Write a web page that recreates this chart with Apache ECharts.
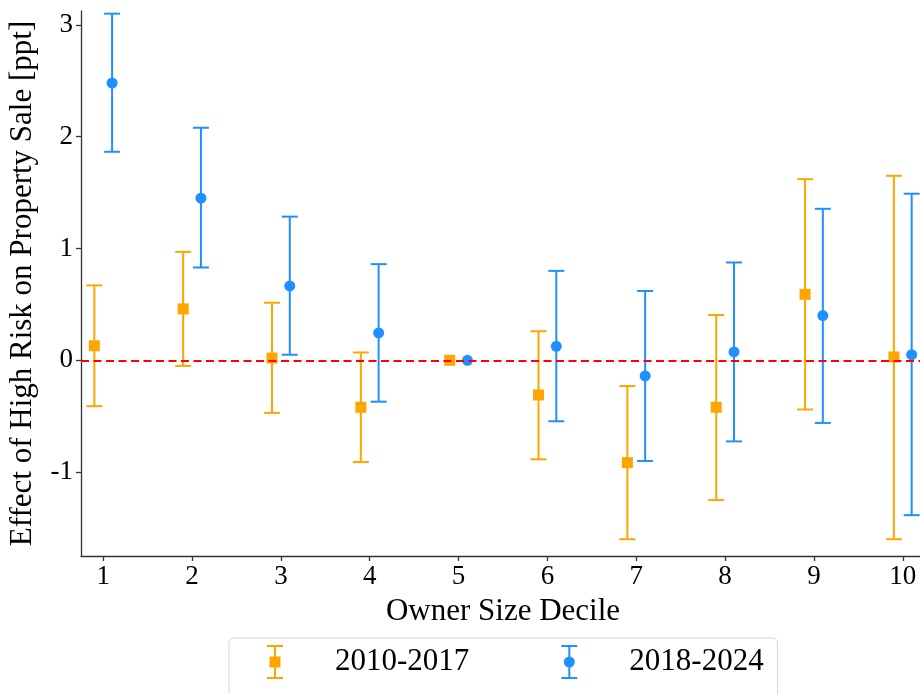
<!DOCTYPE html>
<html>
<head>
<meta charset="utf-8">
<script src="https://cdn.jsdelivr.net/npm/echarts@6/dist/echarts.min.js"></script>
<style>
  html, body { margin: 0; padding: 0; background: #ffffff; }
  #chart { width: 920px; height: 694px; }
</style>
</head>
<body>
<div id="chart"></div>
<script>
// ---- data ----
const deciles = [1, 2, 3, 4, 5, 6, 7, 8, 9, 10];
const yTicks = [-1, 0, 1, 2, 3];

const seriesNames = ['2010-2017', '2018-2024'];

const est2010 = [0.13, 0.46, 0.02, -0.42, 0.00, -0.31, -0.915, -0.42, 0.59, 0.03];
const lo2010  = [-0.41, -0.05, -0.47, -0.91, 0.00, -0.885, -1.60, -1.25, -0.44, -1.60];
const hi2010  = [0.67, 0.97, 0.515, 0.07, 0.00, 0.26, -0.23, 0.405, 1.62, 1.65];

const est2018 = [2.48, 1.45, 0.665, 0.245, 0.00, 0.125, -0.14, 0.075, 0.40, 0.05];
const lo2018  = [1.865, 0.83, 0.05, -0.37, 0.00, -0.545, -0.90, -0.725, -0.56, -1.385];
const hi2018  = [3.10, 2.08, 1.285, 0.86, 0.00, 0.80, 0.62, 0.875, 1.355, 1.49];

// ---- layout / style constants ----
const DODGE = 0.1;
const ORANGE = '#FFA500';
const BLUE = '#1E90FF';
const FONT = 'Liberation Serif';
const AXIS_COLOR = '#333333';

function errorData(est, lo, hi, off) {
  return deciles.map((d, i) => [d + off, lo[i], hi[i], est[i]]);
}
function pointData(est, off) {
  return deciles.map((d, i) => [d + off, est[i]]);
}

function makeRenderItem(color) {
  return function (params, api) {
    const x = api.value(0), lo = api.value(1), hi = api.value(2);
    if (lo === hi) return null;
    const t = api.coord([x, hi]);
    const b = api.coord([x, lo]);
    const style = { stroke: color, lineWidth: 2, fill: null };
    const cap = 8;
    return {
      type: 'group',
      children: [
        { type: 'line', shape: { x1: t[0], y1: t[1], x2: b[0], y2: b[1] }, style: style },
        { type: 'line', shape: { x1: t[0] - cap, y1: t[1], x2: t[0] + cap, y2: t[1] }, style: style },
        { type: 'line', shape: { x1: b[0] - cap, y1: b[1], x2: b[0] + cap, y2: b[1] }, style: style }
      ]
    };
  };
}

const iconSquare = 'path://M0 0 H16 V2 H0 Z M0 32 H16 V34 H0 Z M7 0 H9 V34 H7 Z M2.5 11.5 H13.5 V22.5 H2.5 Z';
const iconCircle = 'path://M0 0 H16 V2 H0 Z M0 32 H16 V34 H0 Z M7 0 H9 V34 H7 Z M2.5 17 A5.5 5.5 0 1 1 13.5 17 A5.5 5.5 0 1 1 2.5 17 Z';

const chart = echarts.init(document.getElementById('chart'), null, { renderer: 'canvas' });

const option = {
  animation: false,
  backgroundColor: '#ffffff',
  textStyle: { fontFamily: FONT },
  grid: { left: 81, top: 11, width: 844, height: 545, containLabel: false, outerBoundsMode: 'none' },
  xAxis: {
    type: 'value',
    min: 0.75,
    max: 10.25,
    name: 'Owner Size Decile',
    nameLocation: 'middle',
    nameGap: 40,
    nameTextStyle: { fontFamily: FONT, fontSize: 31, color: '#000' },
    axisLine: { onZero: false, lineStyle: { color: AXIS_COLOR, width: 1.3 } },
    axisTick: { show: true, customValues: deciles, length: 5, lineStyle: { color: AXIS_COLOR, width: 1.3 } },
    axisLabel: { customValues: deciles, margin: 7, fontFamily: FONT, fontSize: 27, color: '#000' },
    splitLine: { show: false }
  },
  yAxis: {
    type: 'value',
    min: -1.75,
    max: 3.124,
    name: 'Effect of High Risk on Property Sale [ppt]',
    nameLocation: 'middle',
    nameGap: 43,
    nameTextStyle: { fontFamily: FONT, fontSize: 31, color: '#000' },
    axisLine: { show: true, onZero: false, lineStyle: { color: AXIS_COLOR, width: 1.3 } },
    axisTick: { show: true, customValues: yTicks, length: 5, lineStyle: { color: AXIS_COLOR, width: 1.3 } },
    axisLabel: { customValues: yTicks, margin: 8, fontFamily: FONT, fontSize: 27, color: '#000' },
    splitLine: { show: false }
  },
  legend: {
    left: 229,
    top: 638,
    orient: 'horizontal',
    padding: [7, 14, 22, 38],
    itemWidth: 16,
    itemHeight: 34,
    itemGap: 92,
    backgroundColor: '#ffffff',
    borderColor: '#d6d6d6',
    borderWidth: 1,
    borderRadius: 5,
    selectedMode: false,
    textStyle: { fontFamily: FONT, fontSize: 31, color: '#000', padding: [0, 0, 0, 47] },
    itemStyle: { borderWidth: 0 },
    data: [
      { name: seriesNames[0], icon: iconSquare, itemStyle: { color: ORANGE } },
      { name: seriesNames[1], icon: iconCircle, itemStyle: { color: BLUE } }
    ]
  },
  series: [
    {
      type: 'line',
      name: 'zero',
      data: [],
      silent: true,
      z: 1,
      markLine: {
        silent: true,
        symbol: ['none', 'none'],
        label: { show: false },
        lineStyle: { color: '#FF0000', type: [8, 4.5], width: 2 },
        data: [{ yAxis: 0 }]
      }
    },
    {
      type: 'custom',
      name: seriesNames[0],
      z: 2,
      clip: false,
      itemStyle: { color: ORANGE },
      renderItem: makeRenderItem(ORANGE),
      encode: { x: 0, y: [1, 2] },
      data: errorData(est2010, lo2010, hi2010, -DODGE)
    },
    {
      type: 'custom',
      name: seriesNames[1],
      z: 2,
      clip: false,
      itemStyle: { color: BLUE },
      renderItem: makeRenderItem(BLUE),
      encode: { x: 0, y: [1, 2] },
      data: errorData(est2018, lo2018, hi2018, DODGE)
    },
    {
      type: 'scatter',
      name: seriesNames[0],
      z: 3,
      symbol: 'rect',
      symbolSize: 11,
      itemStyle: { color: ORANGE, opacity: 1 },
      emphasis: { disabled: true },
      data: pointData(est2010, -DODGE)
    },
    {
      type: 'scatter',
      name: seriesNames[1],
      z: 3,
      symbol: 'circle',
      symbolSize: 11,
      itemStyle: { color: BLUE, opacity: 1 },
      emphasis: { disabled: true },
      data: pointData(est2018, DODGE)
    }
  ]
};

chart.setOption(option);
</script>
</body>
</html>
